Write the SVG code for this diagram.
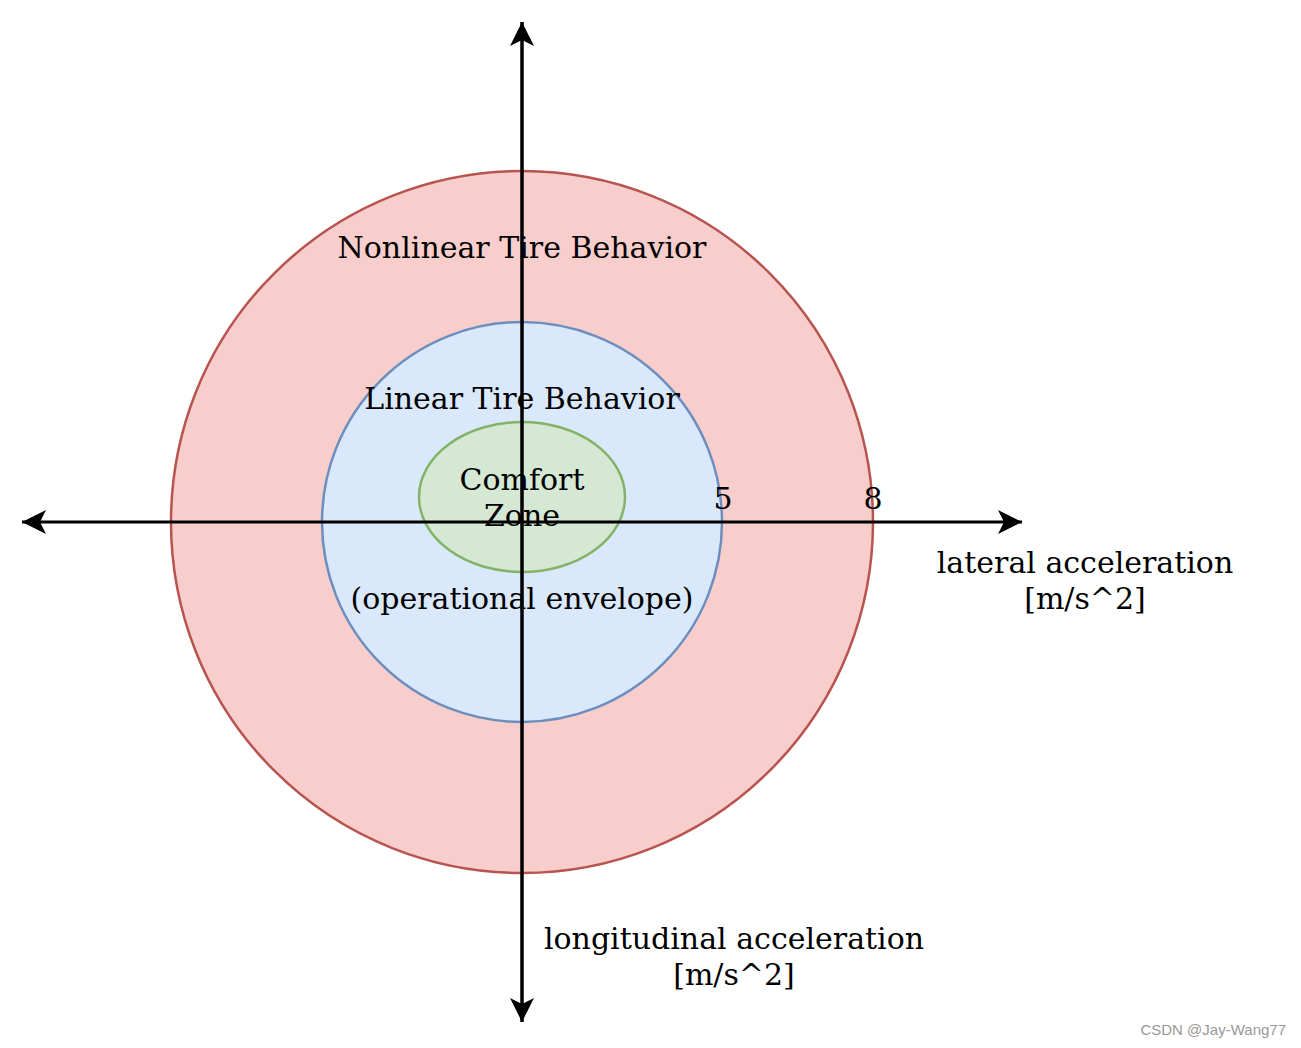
<svg xmlns="http://www.w3.org/2000/svg" width="1301" height="1048" viewBox="0 0 1301 1048">
<style>
.lbl{font-family:"DejaVu Serif",serif;font-size:30px;fill:#000;text-anchor:middle}
.axis{stroke:#000;stroke-width:3;fill:none}
</style>
<defs>
<marker id="arr" markerUnits="userSpaceOnUse" markerWidth="30" markerHeight="30" viewBox="-25 -15 30 30" refX="0" refY="0" orient="auto">
<path d="M0,0 L-24,-12 L-18,0 L-24,12 Z" fill="#000"/>
</marker>
</defs>
<rect width="1301" height="1048" fill="#fff"/>
<g id="nonlinear">
<circle cx="522" cy="522" r="351" fill="#f8cecc" stroke="#b85450" stroke-width="2.5"/>
<text class="lbl" x="522" y="258">Nonlinear Tire Behavior</text>
</g>
<g id="linear">
<circle cx="522" cy="522" r="200" fill="#dae8fc" stroke="#6c8ebf" stroke-width="2.5"/>
<text class="lbl" x="522" y="409">Linear Tire Behavior</text>
<text class="lbl" x="522" y="609">(operational envelope)</text>
</g>
<g id="comfort">
<ellipse cx="522" cy="497" rx="103" ry="75" fill="#d5e8d4" stroke="#82b366" stroke-width="2.5"/>
<text class="lbl" x="522" y="490">Comfort</text>
<text class="lbl" x="522" y="526">Zone</text>
</g>
<g id="ticks">
<text class="lbl" x="723" y="509">5</text>
<text class="lbl" x="873" y="509">8</text>
</g>
<g id="axis-labels">
<text class="lbl" x="1085" y="573">lateral acceleration</text>
<text class="lbl" x="1085" y="609">[m/s^2]</text>
<text class="lbl" x="734" y="949">longitudinal acceleration</text>
<text class="lbl" x="734" y="985">[m/s^2]</text>
</g>
<g id="connectors">
<line class="axis" x1="522" y1="1022" x2="522" y2="22" marker-end="url(#arr)"/>
<line class="axis" x1="522" y1="22" x2="522" y2="1022" marker-end="url(#arr)"/>
<line class="axis" x1="522" y1="522" x2="22" y2="522" marker-end="url(#arr)"/>
<line class="axis" x1="522" y1="522" x2="1022" y2="522" marker-end="url(#arr)"/>
</g>
<text x="1286" y="1035" style="font-family:'Liberation Sans',sans-serif;font-size:15px;fill:#999;text-anchor:end">CSDN @Jay-Wang77</text>
</svg>
